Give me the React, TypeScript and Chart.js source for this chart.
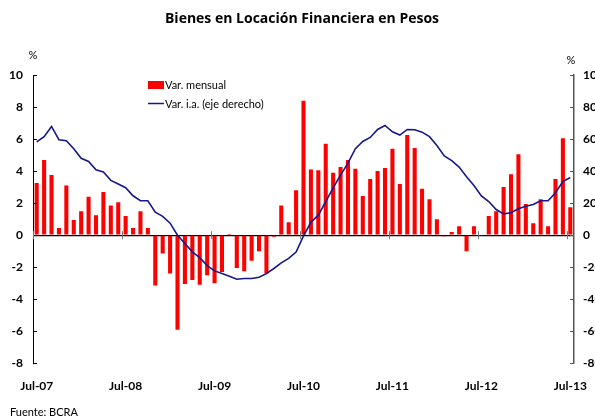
import React, { useEffect, useRef } from "react";
import { Chart, registerables } from "chart.js";

Chart.register(...registerables);

const MONTHS = ["Jan", "Feb", "Mar", "Apr", "May", "Jun", "Jul", "Aug", "Sep", "Oct", "Nov", "Dec"];
const categories: string[] = [];
for (let y = 2007, m = 6; y < 2013 || (y === 2013 && m <= 6); ) {
  categories.push(`${MONTHS[m]}-${String(y).slice(2)}`);
  m++;
  if (m === 12) { m = 0; y++; }
}

const varMensual = [
  3.25, 4.7, 3.75, 0.45, 3.1, 0.95,
  1.5, 2.4, 1.25, 2.7, 1.85, 2.05, 1.2, 0.45, 1.5, 0.45, -3.15, -1.15,
  -2.4, -5.9, -3.05, -2.8, -3.1, -2.5, -3.0, -2.3, 0.07, -2.05, -2.25, -1.6,
  -1.0, -2.4, -0.1, 1.85, 0.8, 2.8, 8.4, 4.1, 4.05, 5.7, 3.9, 4.25,
  4.7, 4.15, 2.45, 3.5, 4.0, 4.2, 5.4, 3.2, 6.25, 5.45, 2.9, 2.25,
  1.0, -0.07, 0.2, 0.55, -1.0, 0.55, -0.05, 1.2, 1.5, 3.0, 3.8, 5.05,
  1.95, 0.75, 2.25, 0.55, 3.5, 6.05, 1.75,
];

const varIA = [
  58.3, 61.5, 67.9, 59.6, 59, 54,
  48, 46, 40.8, 39.4, 34.2, 31.9, 29.6, 24.6, 21.5, 21.5, 14.4, 11.7,
  7.5, 0, -5.2, -10.4, -14, -19, -22.3, -24, -25.6, -27.5, -27.1, -27.1,
  -26.3, -24, -20.8, -17.3, -14.5, -10.5, -0.5, 8, 12.5, 21, 29.5, 37.5,
  45, 54, 58.5, 61, 66, 68.5, 64.5, 62.5, 66, 65.8, 64.3, 61.5,
  56, 49.5, 46.5, 42.5, 36.5, 31, 24.5, 21, 16, 13.3, 14, 16.5,
  18, 19.2, 21.5, 21.5, 26.5, 33.5, 36,
];

const TITLE = "Bienes en Locación Financiera en Pesos";
const SOURCE = "Fuente: BCRA";
const BAR_LABEL = "Var. mensual";
const LINE_LABEL = "Var. i.a. (eje derecho)";

const FONT = "Lato, 'DejaVu Sans', sans-serif";
const TITLE_FONT = "'Open Sans', Lato, sans-serif";
const RED = "#ff0000";
const NAVY = "#17178c";

const decorPlugin = {
  id: "decor",
  afterDraw(chart: any) {
    const ctx = chart.ctx;
    const x = chart.scales.x;
    const yl = chart.scales.y;
    const yr = chart.scales.y1;
    const area = chart.chartArea;
    ctx.save();
    // inward tick marks on y axes
    ctx.strokeStyle = "#000";
    ctx.lineWidth = 1;
    yl.ticks.forEach((t: any) => {
      const py = Math.round(yl.getPixelForValue(t.value)) + 0.5;
      ctx.beginPath();
      ctx.moveTo(area.left, py);
      ctx.lineTo(area.left + 4, py);
      ctx.stroke();
    });
    ctx.strokeStyle = "#555";
    yr.ticks.forEach((t: any) => {
      const py = Math.round(yr.getPixelForValue(t.value)) + 0.5;
      ctx.beginPath();
      ctx.moveTo(area.right - 4, py);
      ctx.lineTo(area.right, py);
      ctx.stroke();
    });
    // x tick marks on zero line, at yearly boundaries
    const zeroY = yl.getPixelForValue(0);
    const half = (x.getPixelForValue(1) - x.getPixelForValue(0)) / 2;
    ctx.strokeStyle = "#777";
    for (let i = 0; i < categories.length; i += 12) {
      const px = Math.round(x.getPixelForValue(i) - half) + 0.5;
      ctx.beginPath();
      ctx.moveTo(px, zeroY - 4);
      ctx.lineTo(px, zeroY + 4);
      ctx.stroke();
    }
    // texts
    ctx.fillStyle = "#000";
    ctx.textBaseline = "middle";
    ctx.font = `bold 14px ${TITLE_FONT}`;
    ctx.textAlign = "center";
    ctx.fillText(TITLE, 302, 19);
    ctx.font = `11px ${FONT}`;
    ctx.fillText("%", area.left, 55);
    ctx.fillText("%", area.right - 3, 60);
    ctx.textAlign = "left";
    ctx.fillText(SOURCE, 10, 412);
    // legend
    ctx.fillStyle = RED;
    ctx.fillRect(148, 81, 16, 8);
    ctx.strokeStyle = NAVY;
    ctx.lineWidth = 1.5;
    ctx.beginPath();
    ctx.moveTo(148, 103.5);
    ctx.lineTo(164, 103.5);
    ctx.stroke();
    ctx.fillStyle = "#000";
    ctx.font = `11px ${FONT}`;
    ctx.fillText(chart.data.datasets[0].label, 165, 85);
    ctx.fillText(chart.data.datasets[1].label, 165, 104);
    ctx.restore();
  },
};

export default function App() {
  const ref = useRef<HTMLCanvasElement>(null);
  useEffect(() => {
    if (!ref.current) return;
    const chart = new Chart(ref.current, {
      type: "bar",
      data: {
        labels: categories,
        datasets: [
          {
            type: "bar",
            label: BAR_LABEL,
            data: varMensual,
            backgroundColor: RED,
            borderWidth: 0,
            categoryPercentage: 1,
            barPercentage: 0.55,
            yAxisID: "y",
            order: 2,
          },
          {
            type: "line",
            label: LINE_LABEL,
            data: varIA,
            borderColor: NAVY,
            borderWidth: 1.6,
            pointRadius: 0,
            tension: 0,
            yAxisID: "y1",
            order: 1,
          },
        ] as any,
      },
      options: {
        animation: false,
        responsive: false,
        devicePixelRatio: 1,
        layout: { padding: { top: 75, bottom: 0, left: 0, right: 0 } },
        plugins: { legend: { display: false }, title: { display: false }, tooltip: { enabled: false } },
        scales: {
          x: {
            type: "category",
            offset: true,
            grid: { display: false, offset: true, drawTicks: false },
            border: { display: false },
            ticks: {
              autoSkip: false,
              maxRotation: 0,
              padding: 16,
              color: "#000",
              font: { family: FONT, size: 12, weight: "bold" },
              callback: (_v: any, i: number) => (i % 12 === 0 ? categories[i] : ""),
            },
            afterFit: (s: any) => { s.height = 55.7; },
          },
          y: {
            position: "left",
            min: -8,
            max: 10,
            ticks: { stepSize: 2, padding: 10, color: "#000", font: { family: FONT, size: 12, weight: "bold" } },
            grid: {
              drawTicks: false,
              color: (c: any) => (c.tick && c.tick.value === 0 ? "#000" : "rgba(0,0,0,0)"),
              lineWidth: 1.2,
            },
            border: { display: true, color: "#000", width: 1 },
            afterFit: (s: any) => { s.width = 33; },
          },
          y1: {
            position: "right",
            min: -80,
            max: 100,
            ticks: { stepSize: 20, padding: 9, color: "#000", font: { family: FONT, size: 12, weight: "bold" } },
            grid: { drawOnChartArea: false, drawTicks: false },
            border: { display: true, color: "#555", width: 1.5 },
            afterFit: (s: any) => { s.width = 36; },
          },
        },
      } as any,
      plugins: [decorPlugin],
    });
    return () => chart.destroy();
  }, []);
  return (
    <div style={{ position: "absolute", left: 0, top: 0, width: 595, height: 419, overflow: "hidden", background: "#fff" }}>
      <canvas ref={ref} width={610} height={419} style={{ width: 610, height: 419, display: "block" }} />
    </div>
  );
}
